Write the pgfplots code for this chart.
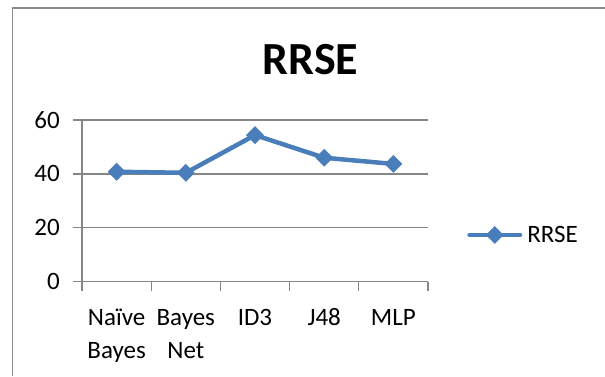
\documentclass[border=0pt]{standalone}
\usepackage{pgfplots}
\pgfplotsset{compat=1.18}
\usepackage{fontspec}
\setmainfont{Carlito}
\definecolor{lineblue}{HTML}{4A7EBB}
\definecolor{gridgray}{HTML}{868686}
\definecolor{framegray}{HTML}{8C8C8C}
\begin{document}
\begin{tikzpicture}[x=1pt,y=1pt]
\path[use as bounding box] (0,0) rectangle (605,376);
\draw[framegray, line width=1.3pt] (12.5,0) -- (12.5,368) -- (605,368);
\node[anchor=base, inner sep=0pt, font=\fontsize{46}{55}\selectfont\bfseries] at (310.5,302) {RRSE};
\begin{axis}[
  at={(82pt,94.3pt)}, anchor=south west,
  scale only axis, width=346pt, height=161.7pt,
  xmin=-0.5, xmax=4.5, ymin=0, ymax=60,
  axis lines*=left,
  axis line style={gridgray, line width=1.3pt},
  ytick={0,20,40,60},
  ymajorgrids, grid style={gridgray, line width=1.3pt},
  xtick={-0.5,0.5,1.5,2.5,3.5,4.5}, xticklabels={},
  extra x ticks={0,1,2,3,4},
  extra x tick labels={Naïve\\Bayes, Bayes\\Net, ID3\\\mbox{}, J48\\\mbox{}, MLP\\\mbox{}},
  extra x tick style={major tick length=0pt, grid=none},
  tick align=outside, major tick length=9pt,
  tick style={gridgray, line width=1.3pt},
  ticklabel style={font=\fontsize{25}{32.6}\selectfont},
  xticklabel style={align=center, anchor=base, inner sep=0pt, yshift=-76.6pt},
  yticklabel style={anchor=east, inner sep=0pt, xshift=-13pt},
  /pgf/number format/assume math mode=true,
  clip=false,
  legend style={at={(1.113,0.289)}, anchor=west, draw=none, fill=none,
    inner sep=0pt, column sep=5pt, nodes={inner sep=0pt},
    font=\fontsize{25}{32}\selectfont},
  legend image code/.code={
    \draw[#1, mark=none, line cap=round] (2.25pt,0pt) -- (52.75pt,0pt);
    \draw[#1] plot coordinates {(27.5pt,0pt)};
  },
]
\addplot[color=lineblue, line width=4.5pt, mark=square*,
  mark size=5.8pt, mark options={solid, rotate=45, line width=1pt, fill=lineblue}]
  coordinates {(0,40.8) (1,40.4) (2,54.4) (3,46.0) (4,43.7)};
\addlegendentry{RRSE}
\end{axis}
\end{tikzpicture}
\end{document}
